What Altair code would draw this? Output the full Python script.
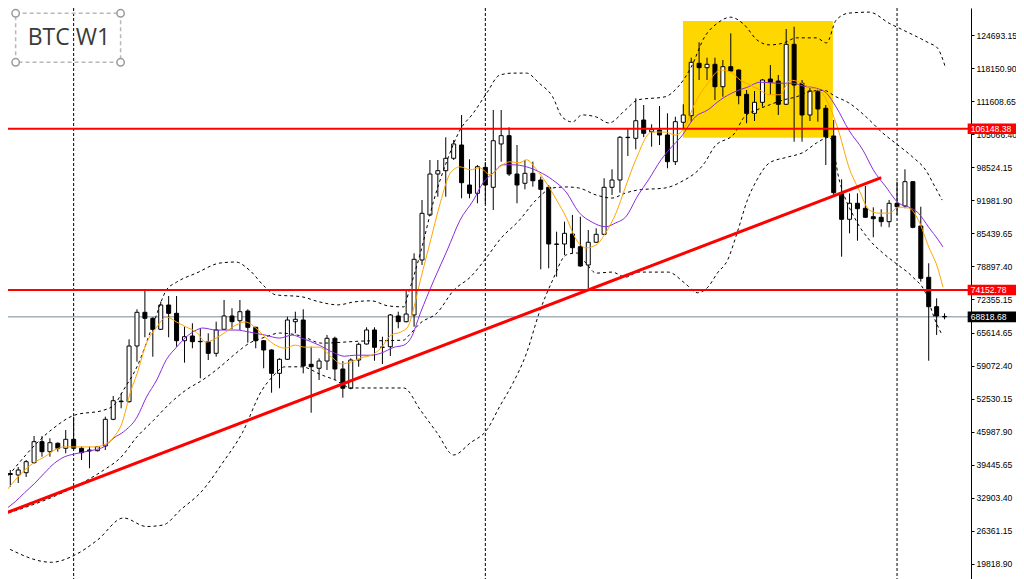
import altair as alt
import pandas as pd

# ---------------- weekly candles (BTC W1) ----------------
opens = [37720, 37430, 37880, 39870, 44040, 42050, 43720, 42730, 44510, 42730,
         42390, 42250, 43180, 48480, 52100, 51980, 63030, 69720, 68530, 66350,
         71170, 69520, 64080, 65020, 63890, 63890, 61580, 66350, 68990, 68050,
         69980, 66740, 64080, 62240, 57610, 60390, 67860, 68190, 59400, 58610,
         60050, 64560, 58470, 54640, 60250, 63430, 66210, 62770, 62890, 68990,
         67860, 69190, 80100, 89040, 97170, 97830, 100290, 102930, 94990, 93340,
         98500, 94530, 103130, 104780, 97170, 95330, 97310, 95980, 94530, 83280,
         83280, 85260, 82740, 79110, 83620, 85200, 94530, 95980, 104460, 104260,
         107890, 105570, 105910, 104920, 99620, 107440, 108750, 119150, 118280, 118950,
         114500, 118470, 117820, 112990, 109220, 111410, 116030, 115630, 111010, 122920,
         115180, 108890, 113510, 110220, 104720, 93200, 88180, 91360, 90370, 88700,
         88580, 87710, 91360, 90820, 95650, 86850, 76670, 70830, 68900]
highs = [38420, 39010, 40400, 45170, 45170, 44710, 43900, 46360, 49000, 43040,
         43040, 43180, 49000, 53110, 53640, 64360, 70320, 74150, 68730, 71830,
         72960, 72960, 66860, 67540, 66600, 65550, 67860, 72160, 70520, 72160,
         70320, 66860, 64220, 62380, 60590, 68850, 69840, 70320, 62890, 60590,
         65220, 64880, 60050, 60590, 63690, 66740, 66740, 64880, 69380, 69840,
         74010, 81430, 92010, 99950, 99950, 104460, 103920, 108890, 100090, 98960,
         99560, 109880, 109880, 106440, 102930, 99950, 99620, 96640, 94990, 85720,
         87710, 89040, 88700, 86060, 86400, 96320, 98110, 104700, 106250, 112200,
         110870, 107040, 110670, 109220, 108550, 111010, 120260, 123320, 120260, 120260,
         119800, 125100, 117950, 113850, 113650, 116030, 118810, 116830, 125960, 126410,
         115830, 114310, 113850, 110870, 107890, 96120, 93340, 93340, 94790, 90560,
         90170, 92010, 95650, 98110, 95750, 90680, 79450, 72500, 69520]
lows = [35100, 35840, 37030, 39700, 41060, 41060, 42050, 41730, 42600, 40400,
        38760, 42100, 42390, 48300, 50670, 51800, 59920, 64760, 60910, 66200,
        64760, 62890, 59720, 62580, 56620, 60250, 60910, 66200, 66350, 66210,
        63690, 62580, 58610, 53760, 54640, 60250, 65550, 57610, 49790, 56280,
        58270, 56280, 52770, 54440, 58920, 63300, 60110, 59460, 61050, 66550,
        67700, 66860, 79110, 88900, 92670, 92670, 99950, 92350, 92350, 91360,
        91220, 90030, 99620, 96780, 91360, 94140, 94650, 78260, 78460, 76790,
        81100, 81430, 78770, 74490, 83500, 85100, 93010, 93460, 100750, 102080,
        104500, 102590, 102930, 98310, 98960, 106250, 107560, 115830, 115830, 111860,
        112520, 117500, 111010, 107240, 107690, 110530, 112860, 108890, 110900, 103590,
        103590, 107690, 107560, 98960, 93010, 80760, 85400, 83930, 88500, 84610,
        86710, 86590, 89040, 90370, 86400, 75800, 60110, 65220, 68330]
closes = [37530, 38420, 40070, 44040, 42050, 43840, 42730, 44510, 42730, 41850,
          42190, 43040, 48480, 52170, 51980, 63030, 69720, 68530, 66350, 71170,
          69520, 64080, 64880, 63890, 63950, 61580, 66210, 68990, 67860, 69840,
          66740, 64080, 62240, 57610, 60390, 68190, 68330, 59060, 58920, 60050,
          64560, 58470, 54640, 60250, 63370, 66210, 62770, 62800, 69190, 67860,
          69380, 80240, 89370, 97170, 97830, 100290, 103130, 95450, 93340, 98620,
          94990, 103780, 104780, 97170, 94990, 97310, 95840, 94140, 83280, 83200,
          85400, 82550, 78910, 83620, 85200, 94530, 95980, 104460, 104400, 107750,
          105250, 105970, 104920, 99620, 107560, 108890, 119350, 118280, 118950, 114500,
          118470, 117620, 112720, 109220, 111410, 115830, 115380, 111010, 122920, 114840,
          108890, 113650, 110080, 104580, 93460, 88180, 91360, 90290, 88580, 88300,
          87710, 91360, 90680, 95650, 86590, 76470, 70830, 68990, 68820]

# ---------------- indicator lines (bar index, price) -------
ub_i = [-0.7, 5.2, 8.1, 11.8, 13.1, 14.3, 16.0, 18.1, 19.7, 21.0,
        23.5, 26.5, 28.5, 30.2, 32.2, 33.5, 36.8, 39.0, 41.4, 43.5,
        45.6, 47.7, 49.7, 50.3, 51.8, 53.5, 55.2, 56.8, 58.5, 60.2,
        61.8, 63.5, 65.2, 66.8, 68.5, 69.7, 71.0, 72.2, 74.0, 75.6,
        77.7, 79.3, 82.7, 84.3, 86.0, 87.7, 89.3, 91.0, 92.7, 94.3,
        95.9, 97.7, 99.3, 101.8, 103.1, 104.3, 105.9, 108.5, 111.0, 112.7,
        116.0, 117.1, 118.1]
ub_v = [36400, 46400, 49300, 50300, 51300, 54300, 58900, 67600, 74100, 75700,
        77500, 79500, 79700, 78100, 74700, 73200, 72800, 71800, 71200, 71800,
        72000, 71000, 70800, 73600, 81500, 92000, 100000, 105900, 109300, 113300,
        116800, 117200, 117200, 115200, 112500, 108500, 107500, 108900, 108500, 107300,
        109900, 111900, 112500, 114400, 118400, 124400, 127100, 128300, 126800, 123800,
        122800, 123200, 124200, 124200, 123200, 127700, 129100, 129300, 127100, 125800,
        123200, 122200, 118400]
mb_i = [-0.2, 6.0, 9.0, 11.8, 14.0, 16.0, 18.1, 20.2, 22.2, 24.3,
        26.5, 28.5, 30.2, 32.2, 34.0, 36.8, 39.3, 44.3, 49.7, 50.2,
        51.8, 53.9, 56.0, 58.1, 60.2, 61.8, 64.3, 66.4, 68.5, 70.2,
        71.8, 74.0, 76.0, 77.7, 79.3, 82.7, 84.7, 87.7, 88.9, 91.5,
        92.7, 94.3, 95.9, 97.7, 99.3, 100.9, 102.7, 104.3, 105.9, 108.1,
        110.2, 111.8, 114.0, 115.6, 116.8, 117.7]
mb_v = [29900, 33500, 35800, 38400, 41000, 45000, 48300, 51700, 54300, 56300,
        58900, 61600, 63600, 64800, 65600, 65000, 63600, 64000, 64200, 64900,
        67600, 69600, 74100, 76700, 80700, 84100, 88000, 92000, 94400, 94600,
        94400, 93000, 92400, 93400, 94000, 94400, 95600, 99400, 102500, 105300,
        108500, 109900, 110900, 111900, 112500, 113500, 113800, 112500, 111300, 108500,
        105300, 103300, 100500, 98000, 94600, 92000]
lb_i = [-0.7, 5.2, 8.1, 11.0, 14.3, 17.2, 19.3, 21.5, 24.3, 26.8,
        29.3, 31.8, 33.1, 34.7, 36.8, 39.3, 41.0, 43.1, 49.7, 51.8,
        53.9, 56.0, 58.1, 60.2, 61.8, 63.5, 65.2, 66.8, 68.5, 70.2,
        71.5, 72.7, 74.0, 76.0, 77.7, 79.3, 83.1, 85.2, 86.8, 88.1,
        89.3, 90.6, 91.8, 93.1, 94.3, 95.9, 98.1, 100.2, 101.8, 103.5,
        104.7, 106.8, 108.5, 110.2, 111.8, 114.0, 115.6, 116.8, 117.7]
lb_v = [23200, 20100, 21500, 24500, 28900, 27200, 27500, 30500, 34400, 39800,
        45800, 54300, 56900, 58900, 58900, 57300, 56300, 54700, 54700, 50300,
        45800, 41400, 43800, 46400, 51000, 55700, 61600, 69600, 76100, 81100,
        81500, 79500, 77500, 77700, 76700, 77700, 77700, 75500, 73600, 74700,
        77500, 80100, 85500, 92000, 96000, 99400, 100500, 101500, 103300, 104500,
        96000, 88000, 84100, 81500, 79500, 76700, 73600, 68200, 65200]
fast_i = [-0.7, 0.6, 1.8, 3.1, 4.3, 5.6, 6.8, 8.1, 9.3, 10.6,
          11.8, 13.1, 14.1, 15.2, 16.0, 17.2, 18.5, 19.7, 21.0, 22.2,
          23.5, 24.7, 26.0, 27.2, 28.5, 29.7, 31.0, 32.2, 33.5, 34.7,
          36.0, 37.2, 39.0, 40.6, 41.8, 43.1, 44.3, 45.6, 46.8, 48.1,
          49.3, 50.2, 51.0, 51.8, 53.1, 54.3, 55.6, 56.8, 58.1, 59.3,
          60.6, 61.8, 63.1, 64.3, 65.2, 66.5, 67.7, 69.0, 70.2, 71.5,
          72.7, 74.0, 75.2, 76.5, 77.7, 79.0, 81.0, 82.7, 84.0, 85.2,
          86.5, 88.1, 89.7, 91.0, 92.2, 93.5, 94.7, 95.9, 97.2, 98.5,
          99.7, 100.9, 102.2, 103.5, 104.7, 105.9, 107.2, 108.5, 109.7, 111.0,
          112.2, 113.5, 114.7, 116.0, 117.1, 117.8]
fast_v = [33900, 36400, 38400, 40000, 41000, 42400, 43000, 43000, 43000, 43000,
          43400, 45000, 47700, 54000, 57500, 63600, 66800, 68800, 67800, 66800,
          65800, 63800, 64600, 65800, 67200, 67800, 66600, 64800, 63200, 62600,
          63200, 62800, 62800, 60800, 59500, 59900, 60700, 61200, 62600, 65200,
          65800, 66800, 70800, 76100, 84100, 91400, 97400, 98600, 98000, 98400,
          97000, 98600, 99600, 99400, 100000, 98000, 95400, 92000, 88600, 84100,
          82500, 83100, 85500, 89400, 94600, 100000, 105500, 105500, 104900, 106500,
          111300, 115200, 117800, 117400, 115800, 114800, 113800, 112900, 112900, 115800,
          115400, 114400, 113800, 110500, 105300, 98600, 94000, 90000, 89400, 89400,
          90600, 90400, 88000, 82700, 78700, 74700]
slow_i = [-0.7, 0.6, 1.8, 3.1, 4.3, 5.6, 6.8, 8.1, 9.3, 10.6,
          11.8, 13.1, 14.3, 16.0, 17.2, 18.5, 19.7, 21.0, 22.2, 23.5,
          24.3, 26.0, 28.5, 30.2, 32.2, 34.0, 35.6, 36.8, 39.0, 41.0,
          42.2, 43.5, 45.6, 46.8, 48.5, 49.7, 50.6, 51.8, 53.5, 55.2,
          56.8, 58.5, 59.7, 61.0, 62.2, 63.5, 65.2, 66.8, 68.5, 70.2,
          71.8, 73.5, 75.2, 76.5, 77.7, 79.3, 80.6, 82.2, 83.5, 84.7,
          86.5, 88.1, 89.7, 91.5, 93.1, 94.7, 96.8, 98.9, 100.2, 101.8,
          103.1, 104.3, 105.9, 107.7, 109.0, 110.6, 112.2, 113.5, 114.7, 116.0,
          117.2, 117.8]
slow_v = [30500, 32100, 33900, 35800, 37800, 39800, 41000, 41600, 42000, 42400,
          43000, 44800, 46000, 48900, 52900, 56300, 60300, 62800, 64800, 66200,
          66600, 66200, 66200, 65800, 65200, 64600, 65200, 64600, 63200, 61600,
          61000, 61200, 61200, 61600, 62800, 63200, 64600, 69600, 76100, 82100,
          88000, 92000, 95400, 97400, 99000, 99000, 98600, 97600, 96000, 93600,
          89600, 87600, 86700, 87500, 88600, 93000, 96000, 100000, 102500, 104500,
          108500, 109900, 111900, 113500, 114400, 115400, 115200, 115200, 114600, 114200,
          113200, 110500, 105900, 101900, 98000, 94600, 91400, 90600, 89400, 86600,
          84100, 82700]

# ---------------- drawn objects ----------------
separators = [8, 60, 112]                 # year separators (bar index)
levels = [106148.38, 74152.78]            # red horizontal levels
level_labels = ["106148.38", "74152.78"]
current_price = 68818.68
trend_i = [-0.66, 110.0]
trend_v = [29820, 96440]
zone_i = [84.96, 103.9]
zone_v = [104380, 127550]
tick_values = [124693.15, 118150.90, 111608.65, 105066.40, 98524.15, 91981.90,
               85439.65, 78897.40, 72355.15, 65614.65, 59072.40, 52530.15,
               45987.90, 39445.65, 32903.40, 26361.15, 19818.90]
title_text = "BTC W1"

# ---------------- scales ----------------
W, H = 963, 571
XS = alt.Scale(domain=[0.34, 120.71], nice=False, zero=False)
YS = alt.Scale(domain=[16781, 130125], nice=False, zero=False)
yaxis = alt.Axis(orient="right", values=tick_values, format=".2f", title=None,
                 grid=False, labelFont="Liberation Sans", labelFontSize=8.6,
                 labelColor="black", tickColor="black", tickSize=3,
                 labelPadding=2, domainColor="black", domainWidth=1,
                 labelOverlap=False, labelBound=False, labelFlush=False)


def X(f):
    return alt.X(f"{f}:Q", scale=XS, axis=None)


def Y(f):
    return alt.Y(f"{f}:Q", scale=YS, axis=yaxis)


n = len(opens)
candles = pd.DataFrame({"i": list(range(n)), "open": opens, "high": highs,
                        "low": lows, "close": closes})
candles["top"] = candles[["open", "close"]].max(axis=1)
candles["bot"] = candles[["open", "close"]].min(axis=1)
candles["dir"] = ["up" if c >= o else "down" for o, c in zip(opens, closes)]

bands = pd.concat([
    pd.DataFrame({"i": ub_i, "v": ub_v, "s": "upper"}),
    pd.DataFrame({"i": mb_i, "v": mb_v, "s": "middle"}),
    pd.DataFrame({"i": lb_i, "v": lb_v, "s": "lower"}),
])
fast = pd.DataFrame({"i": fast_i, "v": fast_v})
slow = pd.DataFrame({"i": slow_i, "v": slow_v})
trend = pd.DataFrame({"i": trend_i, "v": trend_v})
zone = pd.DataFrame({"i0": [zone_i[0]], "i1": [zone_i[1]],
                     "v0": [zone_v[0]], "v1": [zone_v[1]]})
seps = pd.DataFrame({"i": separators})
lev = pd.DataFrame({"v": levels, "t": level_labels})
cur = pd.DataFrame({"v": [current_price], "t": [f"{current_price:.2f}"]})

# axis price tags (outside the plot, right of the price axis line)
tag_x0, tag_x1, tag_tx = 120.92, 127.1, 121.3
half_tag = 1050
tags = pd.DataFrame({
    "v": levels + [current_price],
    "t": level_labels + [f"{current_price:.2f}"],
    "c": ["red", "red", "black"],
})
tags["lo"] = tags["v"] - half_tag
tags["hi"] = tags["v"] + half_tag
tags["x0"] = tag_x0
tags["x1"] = tag_x1
tags["tx"] = tag_tx

# title box
box = pd.DataFrame({"i0": [0.675], "i1": [13.93], "v0": [119346], "v1": [129073]})
corners = pd.DataFrame({"i": [0.675, 13.93, 0.675, 13.93],
                        "v": [129073, 129073, 119346, 119346]})
label = pd.DataFrame({"i": [7.4], "v": [122700], "t": [title_text]})

layers = []
layers.append(alt.Chart(zone).mark_rect(color="#FFD700", clip=True).encode(
    x=X("i0"), x2="i1", y=Y("v0"), y2="v1"))
layers.append(alt.Chart(cur).mark_rule(color="#778899", strokeWidth=1).encode(
    y=Y("v")))
layers.append(alt.Chart(seps).mark_rule(color="black", strokeWidth=1,
                                        strokeDash=[3, 2]).encode(x=X("i")))
layers.append(alt.Chart(candles).mark_rule(color="black", strokeWidth=1, clip=True).encode(
    x=X("i"), y=Y("low"), y2="high"))
layers.append(alt.Chart(candles).mark_bar(width=4, stroke="black", strokeWidth=1,
                                          clip=True).encode(
    x=X("i"), y=Y("bot"), y2="top",
    fill=alt.Fill("dir:N", scale=alt.Scale(domain=["up", "down"],
                                            range=["white", "black"]), legend=None)))
layers.append(alt.Chart(bands).mark_line(color="black", strokeWidth=1, strokeDash=[3, 3],
                                         interpolate="monotone", clip=True).encode(
    x=X("i"), y=Y("v"), detail="s:N"))
layers.append(alt.Chart(slow).mark_line(color="#8A2BE2", strokeWidth=1,
                                        interpolate="monotone", clip=True).encode(
    x=X("i"), y=Y("v")))
layers.append(alt.Chart(fast).mark_line(color="#FFA500", strokeWidth=1,
                                        interpolate="monotone", clip=True).encode(
    x=X("i"), y=Y("v")))
layers.append(alt.Chart(trend).mark_line(color="#FF0000", strokeWidth=3, clip=True).encode(
    x=X("i"), y=Y("v")))
layers.append(alt.Chart(lev).mark_rule(color="#FF0000", strokeWidth=2).encode(y=Y("v")))
layers.append(alt.Chart(tags).mark_rect().encode(
    x=X("x0"), x2="x1", y=Y("lo"), y2="hi",
    color=alt.Color("c:N", scale=None)))
layers.append(alt.Chart(tags).mark_text(align="left", baseline="middle", color="white",
                                        font="Liberation Sans", fontSize=8.6).encode(
    x=X("tx"), y=Y("v"), text="t:N"))
layers.append(alt.Chart(box).mark_rect(fillOpacity=0, stroke="#b8b8b8", strokeWidth=1.5,
                                       strokeDash=[4, 3]).encode(
    x=X("i0"), x2="i1", y=Y("v0"), y2="v1"))
layers.append(alt.Chart(corners).mark_point(shape="circle", size=55, filled=False,
                                            color="#9a9a9a", strokeWidth=1.5,
                                            fill="white", fillOpacity=1).encode(
    x=X("i"), y=Y("v")))
layers.append(alt.Chart(label).mark_text(font="Open Sans", fontSize=23, color="#3a3a3a",
                                         align="center", baseline="alphabetic").encode(
    x=X("i"), y=Y("v"), text="t:N"))

chart = alt.layer(*layers).properties(
    width=W, height=H,
    padding={"left": 0, "top": 0, "right": 45, "bottom": 0},
    autosize=alt.AutoSizeParams(type="none"),
    background="white",
).configure_view(strokeWidth=0)

chart.save("out.html", embed_options={"renderer": "svg", "actions": False})
